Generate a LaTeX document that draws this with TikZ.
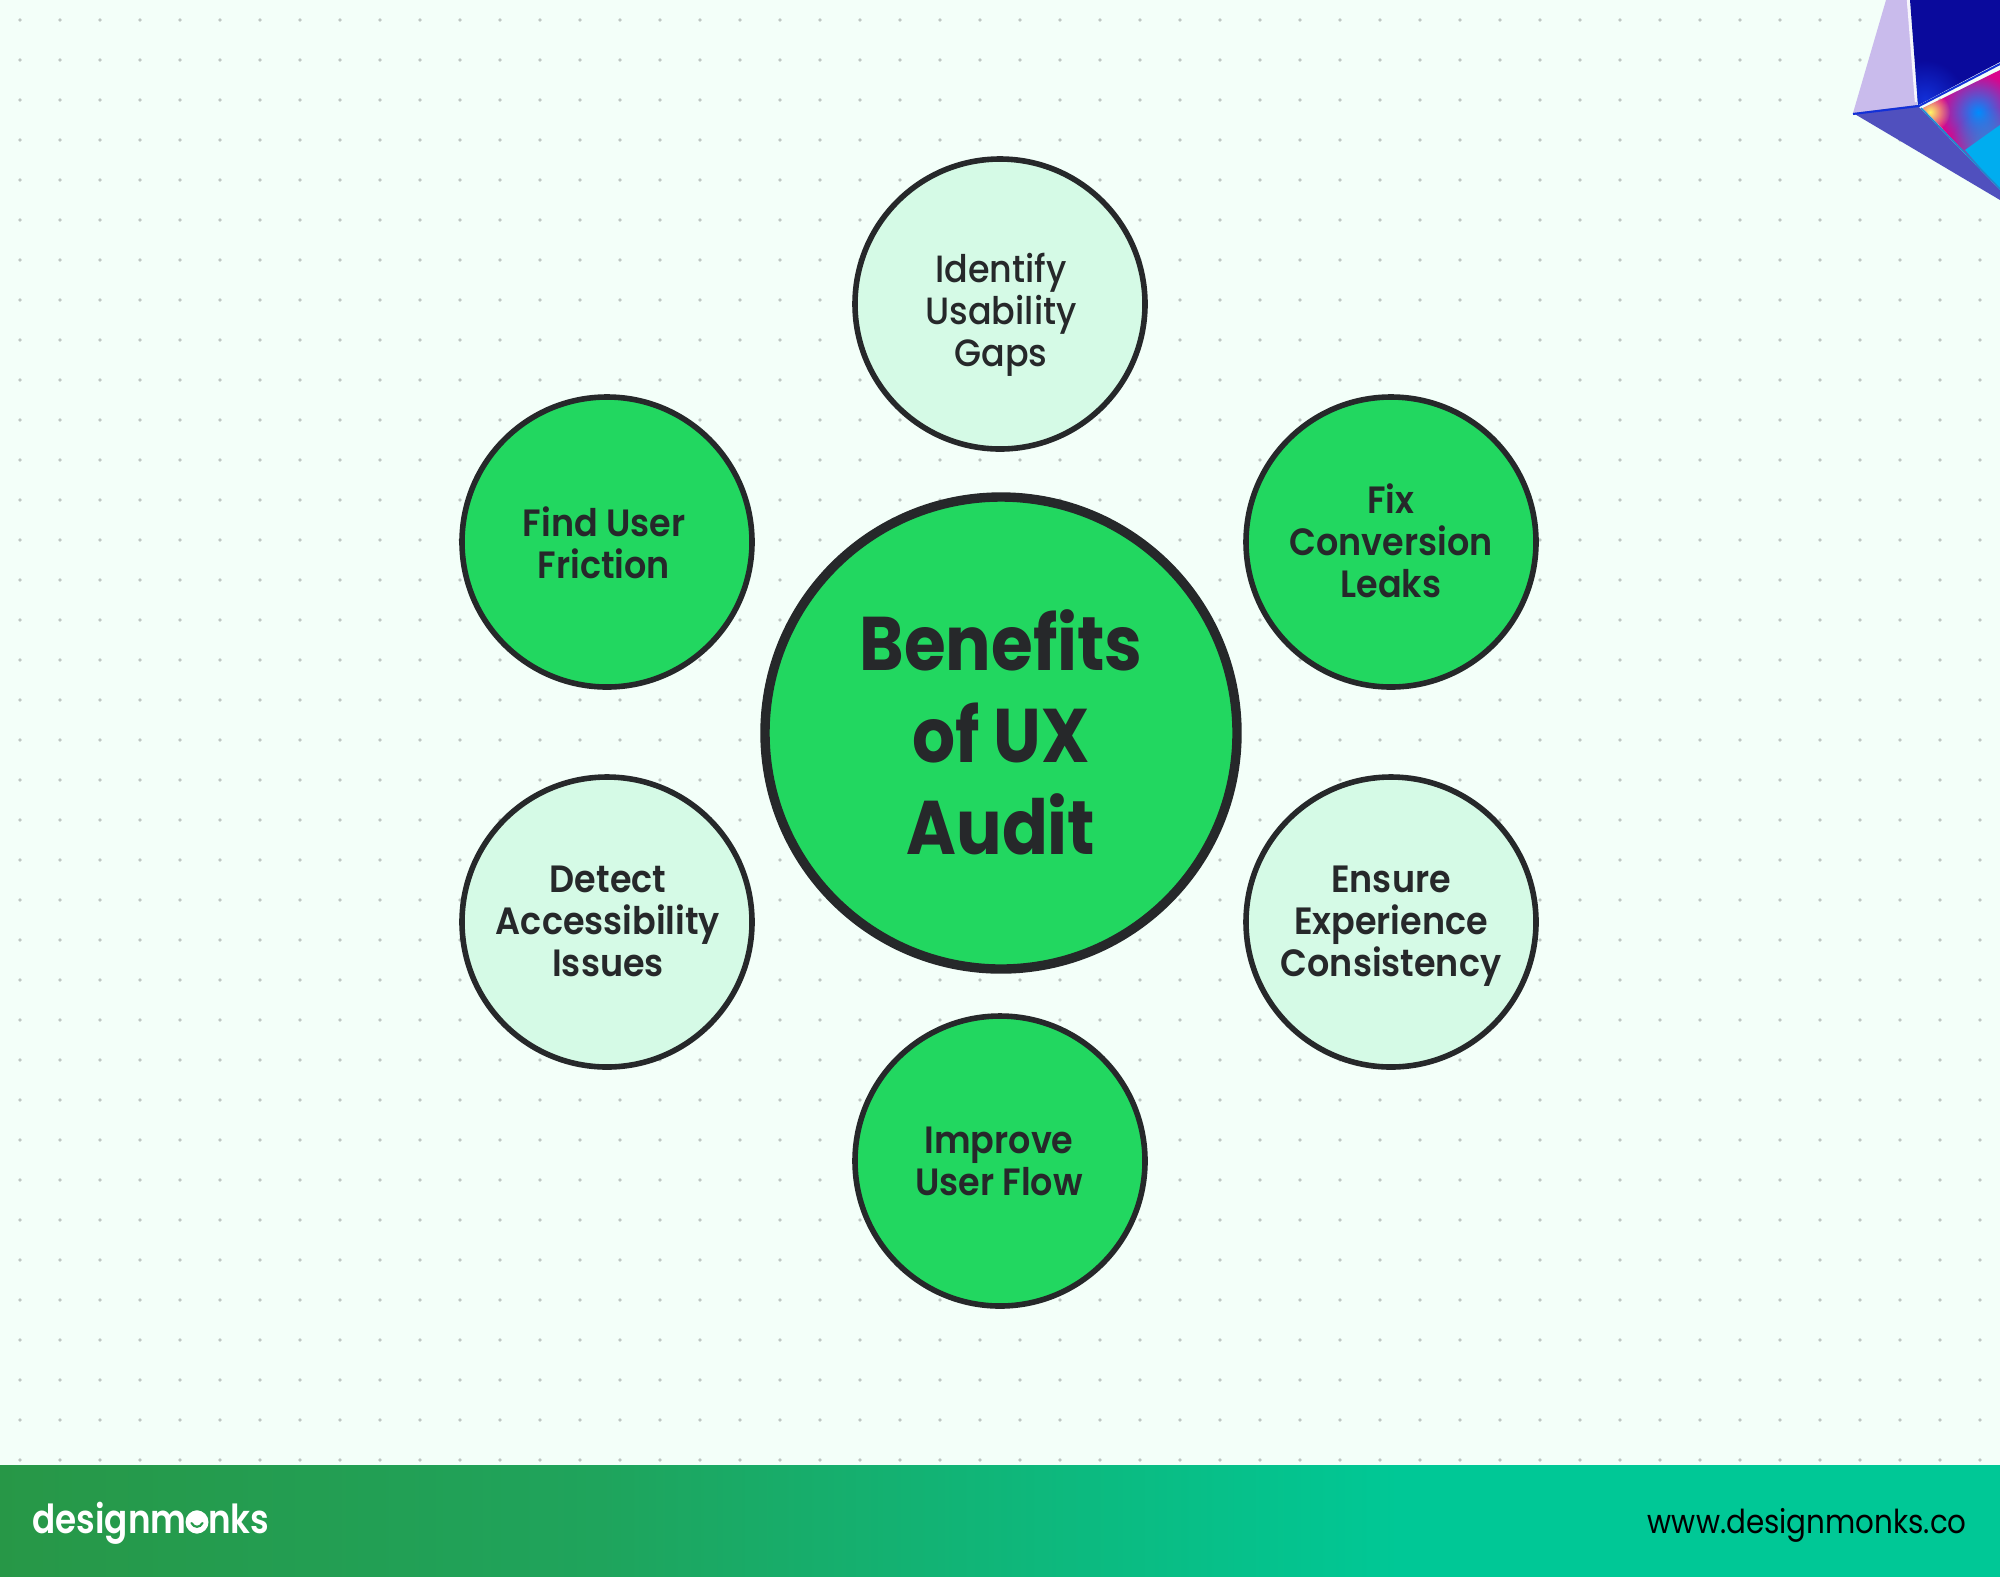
\documentclass[tikz,border=0pt]{standalone}
\usepackage{fontspec}
\setmainfont{Poppins}[UprightFont=* Medium,BoldFont=* SemiBold,FakeStretch=0.92]
\newfontfamily\urlfont{Poppins}[FakeStretch=0.89]
\newfontfamily\logofont{Poppins}[UprightFont=* SemiBold,FakeStretch=0.855]
\newfontfamily\hubfont{Poppins}[UprightFont=* Bold,FakeStretch=0.89]
\usetikzlibrary{calc,fadings}
\definecolor{pageBg}{HTML}{F3FFF9}
\definecolor{dotGray}{HTML}{BDC6C2}
\definecolor{ringInk}{HTML}{26282A}
\definecolor{leafGreen}{HTML}{22D760}
\definecolor{leafPale}{HTML}{D5FAE6}
\definecolor{barLeft}{HTML}{2A9340}
\definecolor{barMid}{HTML}{1FA45C}
\definecolor{barRight}{HTML}{00C896}
\definecolor{prismLav}{HTML}{C9BBEC}
\definecolor{prismNavy}{HTML}{0A0A9C}
\definecolor{prismBlue}{HTML}{1230D8}
\definecolor{prismUnder}{HTML}{5050BE}
\tikzfading[name=blobfade,inner color=transparent!0,outer color=transparent!100]
\pgfdeclarehorizontalshading{barshade}{100bp}{
  color(0bp)=(barLeft); color(20bp)=(barLeft); color(40bp)=(barMid); color(60bp)=(barRight); color(100bp)=(barRight)}
\tikzset{
  hub/.style={circle,draw=ringInk,line width=4.7pt,fill=leafGreen,minimum size=236pt,inner sep=0pt},
  hubtext/.style={inner sep=0pt,align=center,text=ringInk,font=\hubfont\fontsize{38}{46}\selectfont},
  leaf/.style={circle,draw=ringInk,line width=2.8pt,minimum size=145pt,inner sep=0pt},
  leafdark/.style={leaf,fill=leafGreen},
  leaflight/.style={leaf,fill=leafPale},
  leaftext/.style={inner sep=0pt,align=center,text=ringInk,font=\fontsize{19}{21}\selectfont\bfseries}
}
\begin{document}
\begin{tikzpicture}[x=0.5pt,y=-0.5pt]
\useasboundingbox (0,0) rectangle (2000,1576);
\fill[pageBg] (0,0) rectangle (2000,1576);
% dotted grid
\foreach \i in {0,...,49} {
  \foreach \j in {0,...,36} {
    \fill[dotGray] ({20+40*\i},{20+40*\j}) circle (1.85);
  }
}
% prism in the corner
\fill[prismLav] (1886,0) -- (1853,113) -- (1917,105) -- (1907,0) -- cycle;
\draw[white!85!prismLav,line width=1.2pt] (1908,0) -- (1916,102);
\fill[prismUnder] (1853,113) -- (1917,105) -- (2000,190) -- (2000,200) -- cycle;
\fill[prismNavy] (1910,0) -- (1918,105) -- (2000,62) -- (2000,0) -- cycle;
\begin{scope}
  \clip (1910,0) -- (1918,105) -- (2000,62) -- (2000,0) -- cycle;
  \fill[prismBlue,path fading=blobfade] (1925,100) circle (40);
\end{scope}
\begin{scope}
  \clip (1923,108) -- (2000,70) -- (2000,190) -- cycle;
  \fill[magenta!90!blue] (1900,60) rectangle (2000,200);
  \fill[blue!45!cyan,path fading=blobfade] (1978,112) circle (38);
  \fill[cyan] (2000,190) -- (1965,150) -- (2000,125) -- cycle;
  \fill[cyan,path fading=blobfade] (1995,155) circle (48);
  \fill[yellow!60!white,path fading=blobfade] (1930,112) circle (20);
\end{scope}
\draw[prismBlue,line width=1pt] (1853,114) -- (1919,106) -- (2000,64);
\draw[cyan!60!prismBlue,line width=0.8pt] (1921,108) -- (2000,189);
% circles
\node[hub] (audit) at (1001,733) {};
\node[leaflight] (gaps) at (1000,304) {};
\node[leafdark] (friction) at (607,542) {};
\node[leafdark] (leaks) at (1391,542) {};
\node[leaflight] (issues) at (607,922) {};
\node[leaflight] (consistency) at (1391,922) {};
\node[leafdark] (flow) at (1000,1161) {};
% labels
\node[hubtext] (auditlabel) at (1001,732) {Benefits\\of UX\\Audit};
\node[leaftext,font=\fontsize{19}{21}\selectfont] (gapslabel) at (1001,315) {Identify\\Usability\\Gaps};
\node[leaftext] (frictionlabel) at (604,543) {Find User\\Friction};
\node[leaftext] (leakslabel) at (1391,541) {Fix\\Conversion\\Leaks};
\node[leaftext] (issueslabel) at (608,921) {Detect\\Accessibility\\Issues};
\node[leaftext] (consistencylabel) at (1391,926) {Ensure\\Experience\\Consistency};
\node[leaftext] (flowlabel) at (999,1161) {Improve\\User Flow};
% footer
\shade[shading=barshade] (0,1465) rectangle (2000,1576);
\node[anchor=base west,inner sep=0pt,text=white,font=\logofont\fontsize{20}{20}\selectfont] (logo) at (32,1533) {designmonks};
\fill[white] (197,1522) circle (11.5);
\draw[barLeft!60!barMid,line width=1.1pt,line cap=round] (191.5,1523) .. controls (194,1528) and (200,1528) .. (202.5,1523);
\node[anchor=base east,inner sep=0pt,text=black,font=\urlfont\fontsize{16.5}{20}\selectfont] (site) at (1967,1533) {www.designmonks.co};
\end{tikzpicture}
\end{document}
